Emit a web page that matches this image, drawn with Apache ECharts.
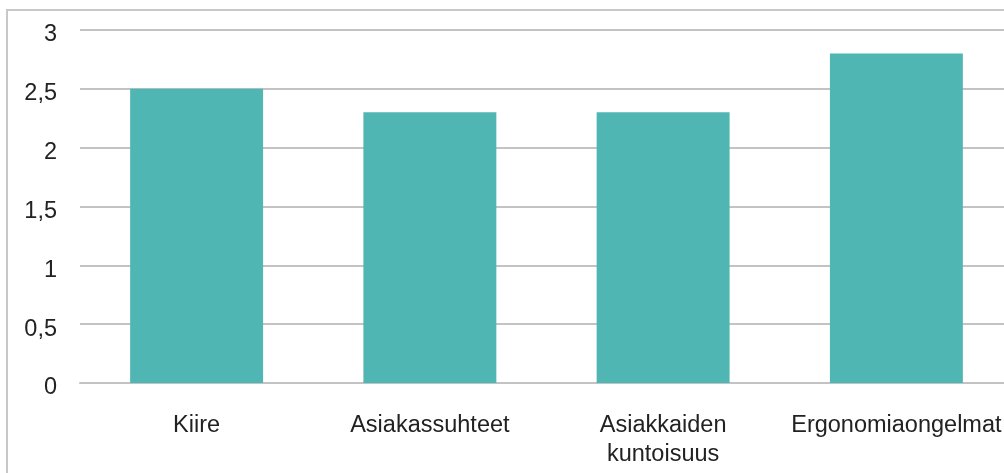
<!DOCTYPE html>
<html>
<head>
<meta charset="utf-8">
<script src="https://cdn.jsdelivr.net/npm/echarts@6/dist/echarts.min.js"></script>
<style>
  html, body { margin: 0; padding: 0; background: #fff; }
  #chart { width: 1004px; height: 473px; }
</style>
</head>
<body>
<div id="chart"></div>
<script>
const categories = ['Kiire', 'Asiakassuhteet', 'Asiakkaiden\nkuntoisuus', 'Ergonomiaongelmat'];
const values = [2.5, 2.3, 2.3, 2.8];
const yTicks = [0, 0.5, 1, 1.5, 2, 2.5, 3];

const chart = echarts.init(document.getElementById('chart'), null, { renderer: 'canvas' });
const font = '"Liberation Sans", Arial, Helvetica, sans-serif';

chart.setOption({
  animation: false,
  backgroundColor: '#ffffff',
  graphic: [{
    type: 'rect',
    shape: { x: 7, y: 10, width: 1200, height: 1000 },
    style: { fill: 'none', stroke: '#c8c8c8', lineWidth: 2 },
    silent: true,
    z: -1
  }],
  grid: {
    left: 80, top: 30, right: -9, bottom: 90,
    containLabel: false,
    outerBoundsMode: 'none'
  },
  xAxis: {
    type: 'category',
    data: categories,
    axisLine: { show: true, lineStyle: { color: '#c3c3c3', width: 2 } },
    axisTick: { show: false },
    axisLabel: {
      color: '#222222',
      fontFamily: font,
      fontSize: 23.5,
      lineHeight: 29,
      margin: 28,
      interval: 0,
      hideOverlap: false
    }
  },
  yAxis: {
    type: 'value',
    min: yTicks[0],
    max: yTicks[yTicks.length - 1],
    interval: 0.5,
    axisLine: { show: false },
    axisTick: { show: false },
    splitLine: { show: true, lineStyle: { color: '#c3c3c3', width: 2 } },
    axisLabel: {
      margin: 23,
      formatter: v => '{t|' + String(v).replace('.', ',') + '}',
      rich: {
        t: {
          color: '#222222',
          fontFamily: font,
          fontSize: 23.5,
          padding: [10, 0, 0, 0]
        }
      }
    }
  },
  series: [{
    type: 'bar',
    data: values,
    barWidth: '57%',
    itemStyle: { color: '#4fb6b3' }
  }]
});
</script>
</body>
</html>
